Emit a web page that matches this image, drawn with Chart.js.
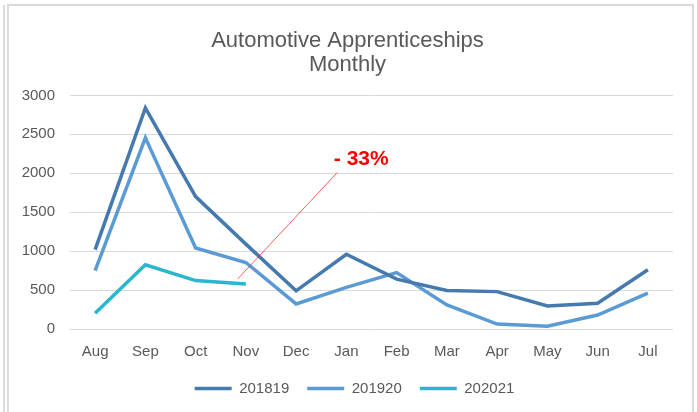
<!DOCTYPE html>
<html lang="en">
  <head>
    <meta charset="UTF-8" />
    <title>Automotive Apprenticeships Monthly</title>
    <script src="https://cdnjs.cloudflare.com/ajax/libs/Chart.js/4.4.1/chart.umd.min.js"></script>
    <style>
      body {
        margin: 0;
        background-color: #ffffff;
        overflow: hidden;
      }

      .edge {
        position: absolute;
        left: 3px;
        top: 5px;
        width: 2px;
        height: 420px;
        background: #dadada;
      }

      .chart-box {
        position: absolute;
        left: 7px;
        top: 4px;
        width: 683px;
        height: 420px;
        border: 2px solid #dadada;
        border-bottom: none;
      }
    </style>
  </head>
  <body>
    <div class="edge"></div>
    <div class="chart-box">
      <canvas id="apprenticeChart" width="683" height="420"></canvas>
    </div>

    <script>
      // months of the apprenticeship year
      const months = ["Aug", "Sep", "Oct", "Nov", "Dec", "Jan", "Feb", "Mar", "Apr", "May", "Jun", "Jul"];

      // monthly starts per academic year
      const year201819 = [1020, 2840, 1700, 1090, 490, 960, 640, 495, 480, 295, 330, 760];
      const year201920 = [750, 2455, 1040, 854, 322, 535, 725, 310, 64, 35, 180, 460];
      const year202021 = [202, 824, 622, 579];

      const yTicks = [0, 500, 1000, 1500, 2000, 2500, 3000];

      // callout: "- 33%" with a leader line (x = month index, y = value)
      const calloutText = "- 33%";
      const calloutLine = [
        [2.84, 645],
        [4.82, 2010],
      ];
      const calloutLabelAt = [4.75, 2110];

      const textGrey = "#595959";
      const font = "'Liberation Sans', Arial, sans-serif";

      // Draws the red callout using the chart's own scales
      const calloutPlugin = {
        id: "callout",
        afterLayout(chart) {
          // nudge the legend a little right, like the original
          chart.legend.left += 7;
          chart.legend.right += 7;
        },
        afterDatasetsDraw(chart) {
          const { ctx, scales } = chart;
          const x = scales.x;
          const y = scales.y;
          ctx.save();
          ctx.strokeStyle = "rgba(255, 40, 40, 0.75)";
          ctx.lineWidth = 1;
          ctx.beginPath();
          ctx.moveTo(x.getPixelForValue(calloutLine[0][0]), y.getPixelForValue(calloutLine[0][1]));
          ctx.lineTo(x.getPixelForValue(calloutLine[1][0]), y.getPixelForValue(calloutLine[1][1]));
          ctx.stroke();

          ctx.fillStyle = "#ff0000";
          ctx.font = "bold 21px " + font;
          ctx.textAlign = "left";
          ctx.textBaseline = "alphabetic";
          ctx.fillText(calloutText, x.getPixelForValue(calloutLabelAt[0]), y.getPixelForValue(calloutLabelAt[1]));
          ctx.restore();
        },
      };

      const lineStyle = (color) => ({
        borderColor: color,
        backgroundColor: color,
        borderWidth: 3.5,
        pointRadius: 0,
        tension: 0,
        fill: false,
      });

      const ctx = document.getElementById("apprenticeChart").getContext("2d");

      const apprenticeChart = new Chart(ctx, {
        type: "line",
        data: {
          labels: months,
          datasets: [
            { label: "201819", data: year201819, ...lineStyle("#457aae") },
            { label: "201920", data: year201920, ...lineStyle("#5b9bd5") },
            { label: "202021", data: year202021, ...lineStyle("#29b6cf") },
          ],
        },
        options: {
          responsive: false,
          animation: false,
          devicePixelRatio: 1,
          layout: {
            padding: { left: 13, right: 19, top: 0, bottom: 20 },
          },
          scales: {
            x: {
              offset: true,
              afterFit: (axis) => {
                axis.height = 34;
              },
              grid: { display: false, drawTicks: false },
              border: { display: false },
              ticks: {
                color: textGrey,
                padding: 14,
                font: { family: font, size: 15 },
              },
            },
            y: {
              min: 0,
              max: 3000,
              afterBuildTicks: (axis) => {
                axis.ticks = yTicks.map((v) => ({ value: v }));
              },
              afterFit: (axis) => {
                axis.width = 48;
              },
              grid: { color: "#d9d9d9", lineWidth: 1, drawTicks: false },
              border: { display: false },
              ticks: {
                color: textGrey,
                padding: 15,
                font: { family: font, size: 15 },
                callback: (v) => String(v),
              },
            },
          },
          plugins: {
            title: {
              display: true,
              text: ["Automotive Apprenticeships", "Monthly"],
              color: textGrey,
              padding: { top: 23, bottom: 18 },
              font: { family: font, size: 22, weight: "normal", lineHeight: 1.1 },
            },
            legend: {
              position: "bottom",
              labels: {
                usePointStyle: true,
                pointStyle: "line",
                pointStyleWidth: 37,
                color: textGrey,
                padding: 18,
                font: { family: font, size: 15 },
              },
            },
            tooltip: { enabled: false },
          },
        },
        plugins: [calloutPlugin],
      });
    </script>
  </body>
</html>
